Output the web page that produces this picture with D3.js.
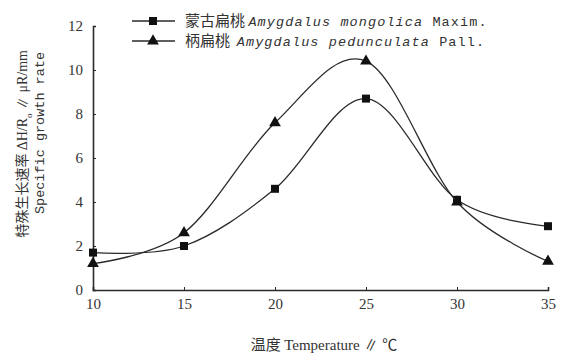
<!DOCTYPE html>
<html>
<head>
<meta charset="utf-8">
<script src="https://cdn.jsdelivr.net/npm/d3@7"></script>
<style>
  body { margin: 0; background: #fff; }
  text { font-family: "Liberation Serif", "Noto Sans CJK SC", serif; fill: #333; }
  .cjk { font-family: "Noto Sans CJK SC", sans-serif; }
  .mono { font-family: "Liberation Mono", "Noto Sans CJK SC", monospace; }
</style>
</head>
<body>
<svg id="chart" width="576" height="357"></svg>
<script>
// temperature categories (x)
var temps = [10, 15, 20, 25, 30, 35];
// 蒙古扁桃 Amygdalus mongolica Maxim. (squares)
var mongolica = [1.7, 2.0, 4.6, 8.7, 4.1, 2.9];
// 柄扁桃 Amygdalus pedunculata Pall. (triangles)
var pedunculata = [1.2, 2.6, 7.6, 10.4, 4.0, 1.3];
var yTicks = [0, 2, 4, 6, 8, 10, 12];

var svg = d3.select("#chart");
const ink = "#2a2a2a";

var xScale = d3.scaleLinear().domain([10, 35]).range([93, 548]);
var yScale = d3.scaleLinear().domain([0, 12]).range([290, 26]);

//axes, small ticks pointing into the plot
var xAxis = d3.axisBottom(xScale).tickValues(temps).tickSize(-3).tickPadding(8);
var gx = svg.append("g")
  .attr("transform", "translate(0," + yScale(0) + ")")
  .call(xAxis);
gx.selectAll("text").style("font-size", "15px").attr("fill", "#333");

var yAxis = d3.axisLeft(yScale).tickValues(yTicks).tickSize(-3).tickPadding(10);
var gy = svg.append("g")
  .attr("transform", "translate(" + xScale(10) + ",0)")
  .call(yAxis);
gy.selectAll("text").style("font-size", "15px").attr("fill", "#333");

svg.selectAll(".domain").attr("stroke", ink).attr("stroke-width", 1.6);
svg.selectAll(".tick line").attr("stroke", ink);

var line = d3.line()
  .x(function (d, i) { return xScale(temps[i]); })
  .y(function (d) { return yScale(d); })
  .curve(d3.curveCatmullRom.alpha(0));

var drawSeries = (values, symbolType, size) => {
  svg.append("path")
    .datum(values)
    .attr("d", line)
    .attr("fill", "none")
    .attr("stroke", ink)
    .attr("stroke-width", 1.3);
  svg.selectAll(null)
    .data(values)
    .enter()
    .append("path")
    .attr("d", d3.symbol().type(symbolType).size(size))
    .attr("transform", function (d, i) {
      return "translate(" + xScale(temps[i]) + "," + yScale(d) + ")";
    })
    .attr("fill", "#111");
}

drawSeries(mongolica, d3.symbolSquare, 64);
drawSeries(pedunculata, d3.symbolTriangle, 60);

//legend
var legendItems = [
  { cn: "蒙古扁桃\u00a0", it: "Amygdalus mongolica", rest: "\u00a0Maxim.", sym: d3.symbolSquare, size: 64, y: 21 },
  { cn: "柄扁桃\u00a0\u00a0", it: "Amygdalus pedunculata", rest: "\u00a0Pall.", sym: d3.symbolTriangle, size: 60, y: 41 }
];
legendItems.forEach(function (item) {
  svg.append("line")
    .attr("x1", 132).attr("x2", 175)
    .attr("y1", item.y).attr("y2", item.y)
    .attr("stroke", ink).attr("stroke-width", 1.3);
  svg.append("path")
    .attr("d", d3.symbol().type(item.sym).size(item.size))
    .attr("transform", "translate(153," + item.y + ")")
    .attr("fill", "#111");
  var t = svg.append("text")
    .attr("x", 185).attr("y", item.y + 5)
    .attr("class", "mono")
    .style("font-size", "13.5px");
  t.append("tspan").attr("class", "cjk").style("font-size", "15px").text(item.cn);
  t.append("tspan").style("font-style", "italic").style("letter-spacing", "1.1px").text(item.it);
  t.append("tspan").style("letter-spacing", "1.1px").text(item.rest);
});

//x label
var xl = svg.append("text")
  .attr("x", 324).attr("y", 350)
  .attr("text-anchor", "middle")
  .style("font-size", "15px");
xl.append("tspan").attr("class", "cjk").text("温度\u00a0");
xl.append("tspan").text("Temperature ∥ ℃");

//y label, two rotated lines
var yl1 = svg.append("text")
  .attr("transform", "translate(27,50)rotate(-90)")
  .attr("text-anchor", "end")
  .style("font-size", "14px");
yl1.append("tspan").attr("class", "cjk").text("特殊生长速率\u00a0");
yl1.append("tspan").text("ΔH/R");
yl1.append("tspan").attr("baseline-shift", "sub").style("font-size", "9px").text("o");
yl1.append("tspan").text(" ∥ μR/mm");

svg.append("text")
  .attr("transform", "translate(44,52)rotate(-90)")
  .attr("text-anchor", "end")
  .attr("class", "mono")
  .style("font-size", "13.5px")
  .text("Specific growth rate");
</script>
</body>
</html>
